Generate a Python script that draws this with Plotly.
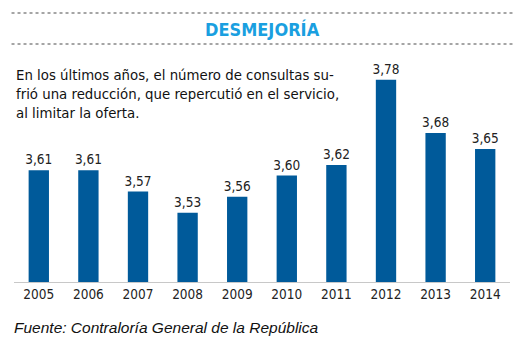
import plotly.graph_objects as go

years = ["2005", "2006", "2007", "2008", "2009", "2010", "2011", "2012", "2013", "2014"]
values = [3.61, 3.61, 3.57, 3.53, 3.56, 3.60, 3.62, 3.78, 3.68, 3.65]
labels = [f"{v:.2f}".replace(".", ",") for v in values]

title = "DESMEJORÍA"
subtitle = "En los últimos años, el número de consultas su-<br>frió una reducción, que repercutió en el servicio,<br>al limitar la oferta."
source = "Fuente: Contraloría General de la República"

narrow = "DejaVu Sans Condensed, Liberation Sans Narrow, sans-serif"

fig = go.Figure(go.Bar(
    x=years, y=values, text=labels, textposition="outside", constraintext="none",
    textfont=dict(family=narrow, size=13.5, color="#222"),
    marker=dict(color="#005a9a", line=dict(width=0)),
    cliponaxis=False, hoverinfo="skip",
))

fig.update_layout(
    width=514, height=341,
    margin=dict(l=6, r=12, t=52, b=67),
    paper_bgcolor="white", plot_bgcolor="white",
    bargap=0.59, showlegend=False,
    xaxis=dict(showgrid=False, showline=True, linecolor="#c8c8c8", linewidth=1,
               ticks="", tickfont=dict(family=narrow, size=13.5, color="#222")),
    yaxis=dict(range=[3.40, 3.817], visible=False, showgrid=False),
    shapes=[
        dict(type="line", xref="paper", yref="paper", x0=-0.005, x1=1.005, y0=1.0 + (60-13)/222, y1=1.0 + (60-13)/222,
             line=dict(color="#888", width=1.5, dash="dot")),
        dict(type="line", xref="paper", yref="paper", x0=-0.005, x1=1.005, y0=1.0 + (60-44)/222, y1=1.0 + (60-44)/222,
             line=dict(color="#888", width=1.5, dash="dot")),
    ],
    annotations=[
        dict(text=f"<b>{title}</b>", xref="paper", yref="paper", x=0.5, y=1.0 + (60-29)/222,
             xanchor="center", yanchor="middle", showarrow=False,
             font=dict(family=narrow, size=18, color="#1a9fe0")),
        dict(text=subtitle, xref="paper", yref="paper", x=0.0, y=1.0 + (60-64)/222,
             xanchor="left", yanchor="top", align="left", showarrow=False,
             font=dict(family=narrow, size=14.8, color="#111")),
        dict(text=f"<i>{source}</i>", xref="paper", yref="paper", x=-0.004, y=-(327-282)/222,
             xanchor="left", yanchor="middle", align="left", showarrow=False,
             font=dict(family="Liberation Sans, Arial, sans-serif", size=15.5, color="#111")),
    ],
)

fig.write_html("out.html")
